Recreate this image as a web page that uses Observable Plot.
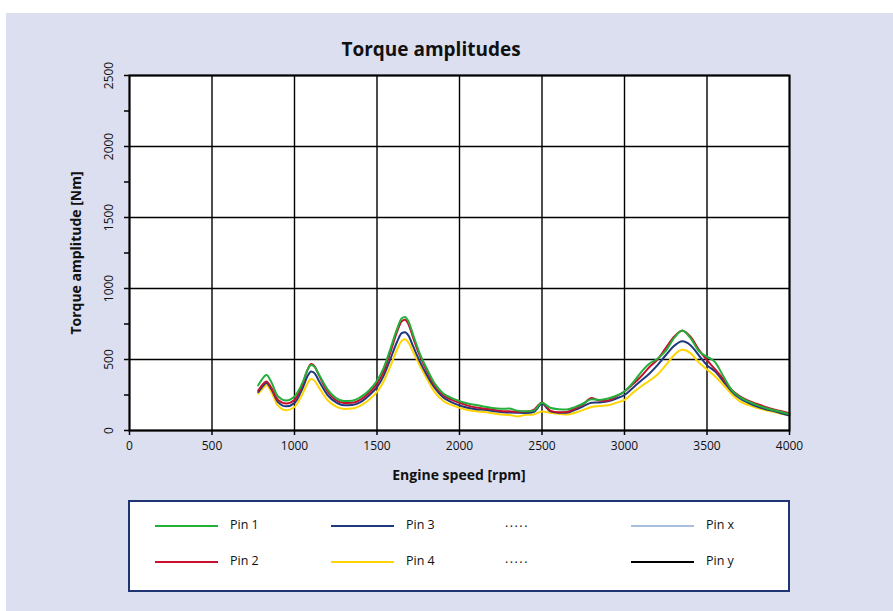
<!DOCTYPE html>
<html>
<head>
<meta charset="utf-8">
<script src="https://cdn.jsdelivr.net/npm/d3@7"></script>
<script src="https://cdn.jsdelivr.net/npm/@observablehq/plot@0.6"></script>
<style>
  html, body { margin: 0; padding: 0; background: #ffffff; }
  body { width: 893px; height: 611px; position: relative; overflow: hidden; font-family: "Open Sans", sans-serif; }
  #bg { position: absolute; left: 6px; top: 13px; right: 0; bottom: 0; background: #dcdfef; }
  #chart { position: absolute; left: 0; top: 0; }
  #title { position: absolute; left: 129px; width: 604px; top: 36px; text-align: center; font-weight: bold; font-size: 19px; color: #111; }
  #xlabel { position: absolute; left: 129px; width: 660px; top: 465px; text-align: center; font-weight: bold; font-size: 14px; color: #111; }
  #ylabel { position: absolute; left: 75px; top: 253px; transform: translate(-50%, -50%) rotate(-90deg); white-space: nowrap; font-weight: bold; font-size: 14px; color: #111; }
  #legend { position: absolute; left: 128px; top: 500px; width: 658px; height: 88px; background: #fff; border: 2px solid #1f3472; }
  .sw { position: absolute; height: 2px; width: 63px; }
  .lt { position: absolute; font-size: 12.5px; color: #111; line-height: 16px; }
</style>
</head>
<body>
<div id="bg"></div>
<div id="title">Torque amplitudes</div>
<div id="chart"></div>
<div id="xlabel">Engine speed [rpm]</div>
<div id="ylabel">Torque amplitude [Nm]</div>
<div id="legend"></div>
<script>
const rpm = [780,800,830,860,900,950,1000,1050,1080,1100,1120,1150,1200,1250,1300,1350,1400,1450,1500,1540,1580,1620,1650,1670,1690,1720,1760,1800,1850,1900,1950,2000,2050,2100,2150,2200,2250,2300,2350,2400,2450,2500,2550,2600,2650,2700,2750,2800,2850,2900,2950,3000,3050,3100,3150,3200,3250,3300,3350,3400,3450,3500,3550,3600,3650,3700,3750,3800,3850,3900,3950,4000];

const pin1 = [318,355,390,340,240,212,240,340,430,462,450,390,290,230,207,210,235,280,350,440,570,710,790,800,770,670,540,440,330,262,230,207,190,180,168,158,153,155,140,135,140,195,160,150,148,165,190,220,215,225,245,275,335,410,470,505,560,650,705,650,560,520,480,380,285,235,205,180,160,145,130,115];
const pin2 = [282,315,345,300,215,190,215,330,430,468,455,385,275,215,193,195,218,262,330,415,545,690,770,780,750,650,525,425,315,250,218,195,175,162,155,148,138,135,132,133,145,198,140,128,130,155,185,228,210,212,240,275,325,380,445,500,580,660,703,660,570,495,430,360,285,240,210,188,168,150,135,122];
const pin3 = [271,300,334,290,200,170,193,300,385,415,405,345,250,200,178,180,200,245,305,385,500,620,685,692,670,590,485,395,300,235,200,177,160,150,146,138,130,127,125,124,130,188,135,125,125,145,170,195,198,205,225,250,300,350,400,460,530,595,628,600,530,460,415,345,275,225,195,170,152,138,122,105];
const pin4 = [259,285,318,270,175,142,165,260,335,362,352,300,215,170,152,155,175,215,272,345,450,565,632,642,620,550,455,370,270,210,180,160,145,135,130,122,112,110,99,110,113,134,125,118,112,125,145,165,172,178,195,215,265,310,350,395,460,530,568,545,480,430,380,320,255,205,180,160,145,132,118,105];

const seriesNames = ["Pin 1","Pin 2","Pin 3","Pin 4"];
const seriesColors = ["#22b03a","#c8102e","#1f3a7c","#ffd400"];
const xTicks = [0,500,1000,1500,2000,2500,3000,3500,4000];
const yTicks = [0,500,1000,1500,2000,2500];
const yMinor = [250,750,1250,1750,2250];

const legendNames = ["Pin 1","Pin 2","Pin 3","Pin 4",".....",".....","Pin x","Pin y"];
const legendColors = ["#22b03a","#c8102e","#1f3a7c","#ffd400",null,null,"#a9bfe0","#000000"];

const allSeries = [pin1, pin2, pin3, pin4];
const rows = [];
[3,2,1,0].forEach(i => {
  rpm.forEach((r, j) => rows.push({rpm: r, value: allSeries[i][j], pin: seriesNames[i], order: i}));
});

const chart = Plot.plot({
  width: 893,
  height: 611,
  marginLeft: 129,
  marginRight: 104,
  marginTop: 75,
  marginBottom: 181,
  style: {background: "transparent", fontFamily: "Open Sans", fontSize: "12px", color: "#111"},
  x: {domain: [0, 4000]},
  y: {domain: [0, 2500]},
  marks: [
    Plot.frame({fill: "white", stroke: null}),
    Plot.gridX(xTicks, {stroke: "#000", strokeOpacity: 1, strokeWidth: 1.4}),
    Plot.gridY(yTicks, {stroke: "#000", strokeOpacity: 1, strokeWidth: 1.4}),
    ...[3,2,1,0].map(i => Plot.line(rows.filter(d => d.order === i), {x: "rpm", y: "value", stroke: seriesColors[i], strokeWidth: 2, curve: "monotone-x"})),
    Plot.frame({stroke: "#000", strokeWidth: 2}),
    Plot.axisX(xTicks, {tickSize: 5, tickPadding: 6, tickFormat: d => String(d), label: null, stroke: "#000", strokeWidth: 1.5}),
    Plot.axisY(yTicks, {tickSize: 5, tickPadding: 12, tickRotate: -90, tickFormat: d => String(d), label: null, stroke: "#000", strokeWidth: 1.5}),
    Plot.axisY(yMinor, {tickSize: 5, tickFormat: () => "", label: null, stroke: "#000", strokeWidth: 1.5})
  ]
});
document.getElementById("chart").appendChild(chart);

const leg = document.getElementById("legend");
const colX = [25, 201, 375, 501];
const rowY = [23, 59];
legendNames.forEach((name, k) => {
  const c = Math.floor(k / 2), r = k % 2;
  const col = legendColors[k];
  if (col) {
    const s = document.createElement("div");
    s.className = "sw";
    s.style.left = colX[c] + "px";
    s.style.top = rowY[r] + "px";
    s.style.background = col;
    leg.appendChild(s);
    const t = document.createElement("div");
    t.className = "lt";
    t.style.left = (colX[c] + 75) + "px";
    t.style.top = (rowY[r] - 8) + "px";
    t.textContent = name;
    leg.appendChild(t);
  } else {
    const t = document.createElement("div");
    t.className = "lt";
    t.style.left = colX[c] + "px";
    t.style.top = (rowY[r] - 10) + "px";
    t.style.letterSpacing = "1.5px";
    t.textContent = name;
    leg.appendChild(t);
  }
});
</script>
</body>
</html>
